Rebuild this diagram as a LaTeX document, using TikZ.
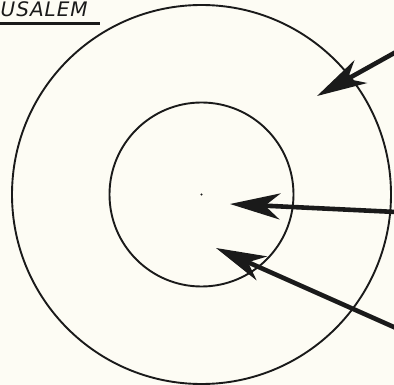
\documentclass[tikz,border=0pt]{standalone}
\usepackage{fontspec}
\newfontfamily\labelfont[LetterSpace=5]{DejaVu Sans}
\definecolor{paper}{HTML}{FDFCF4}
\definecolor{ink}{HTML}{1A1A1A}
\usetikzlibrary{arrows.meta}

\begin{document}
\begin{tikzpicture}[
      x=1pt, y=-1pt,
      ring/.style={draw=ink, line width=1.9pt},
      pointer/.style={draw=ink, line width=4.6pt,
                      -{Stealth[length=50pt, width=26pt, inset=15pt]}},
      title/.style={font=\fontsize{20}{22}\selectfont\labelfont\itshape, text=ink,
                    inner sep=0pt, anchor=base west},
    ]
    \fill[paper] (0,0) rectangle (394,385);
    \useasboundingbox (0,0) rectangle (394,385);

    % city name at the top edge
    \node[title] (name) at (0.5,17) {USALEM};
    \draw[ink, line width=3pt] (0,24) -- (100,24);

    % rings round the centre
    \coordinate (c) at (201.5,194.5);
    \draw[ring] (c) circle[radius=189.5];
    \draw[ring] (c) circle[radius=92];
    \fill[ink] (c) circle[radius=1.2];

    % pointers from the margin
    \coordinate (s1) at (396,52);
    \coordinate (t1) at (317,96);
    \coordinate (s2) at (396,212);
    \coordinate (t2) at (230,204);
    \coordinate (s3) at (396,328);
    \coordinate (t3) at (216,248);
    \draw[pointer] (s1) -- (t1);
    \draw[pointer] (s2) -- (t2);
    \draw[pointer] (s3) -- (t3);
  \end{tikzpicture}
\end{document}
